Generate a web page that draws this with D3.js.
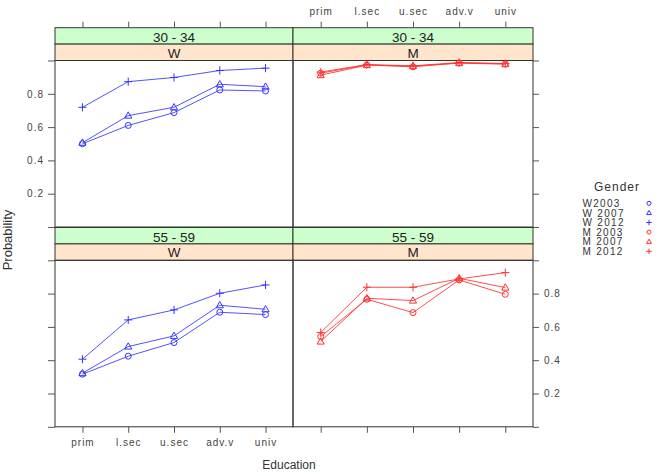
<!DOCTYPE html>
<html>
<head>
  <title>Probability by Education</title>
  <script src="https://d3js.org/d3.v7.min.js"></script>
  <style>
    body { margin: 0; background: #fff; }
    text { font-family: "Liberation Sans", Arial, sans-serif; }
    .axis text { fill: #444; font-size: 10px; letter-spacing: 1px; }
    .axis line { stroke: #555; }
  </style>
</head>
<body>
  <svg id="chart" width="661" height="476"></svg>

  <script>
    // categories
    var education = ["prim", "l.sec", "u.sec", "adv.v", "univ"];
    var ages = ["30 - 34", "55 - 59"];
    var genders = ["W", "M"];
    var years = ["2003", "2007", "2012"];
    var legendLabels = ["W2003", "W 2007", "W 2012", "M 2003", "M 2007", "M 2012"];
    var yTicks = [0, 0.2, 0.4, 0.6, 0.8, 1];
    var yTickLabels = ["", "0.2", "0.4", "0.6", "0.8", ""];

    // values
    var W_30_34_2003 = [0.500, 0.610, 0.687, 0.823, 0.817];
    var W_30_34_2007 = [0.506, 0.669, 0.719, 0.857, 0.843];
    var W_30_34_2012 = [0.719, 0.873, 0.898, 0.940, 0.954];
    var M_30_34_2003 = [0.924, 0.974, 0.962, 0.986, 0.980];
    var M_30_34_2007 = [0.912, 0.972, 0.966, 0.984, 0.978];
    var M_30_34_2012 = [0.930, 0.976, 0.968, 0.988, 0.982];
    var W_55_59_2003 = [0.316, 0.424, 0.506, 0.688, 0.674];
    var W_55_59_2007 = [0.322, 0.482, 0.546, 0.730, 0.706];
    var W_55_59_2012 = [0.406, 0.642, 0.702, 0.802, 0.852];
    var M_55_59_2003 = [0.542, 0.766, 0.686, 0.882, 0.796];
    var M_55_59_2007 = [0.512, 0.772, 0.758, 0.892, 0.836];
    var M_55_59_2012 = [0.566, 0.838, 0.838, 0.888, 0.926];

    var panelValues = {
      "W|30 - 34": [W_30_34_2003, W_30_34_2007, W_30_34_2012],
      "M|30 - 34": [M_30_34_2003, M_30_34_2007, M_30_34_2012],
      "W|55 - 59": [W_55_59_2003, W_55_59_2007, W_55_59_2012],
      "M|55 - 59": [M_55_59_2003, M_55_59_2007, M_55_59_2012]
    };

    var colors = { W: "#3535ff", M: "#ff3030" };

    var svg = d3.select("#chart");

    // layout
    var colX = [[55, 293], [293, 533]];
    var rowTop = [27.7, 227.5];
    var stripH = 16.4;
    var plotH = 166.5;

    // draws a lattice-like open symbol (0 circle, 1 triangle, 2 plus)
    function drawSymbol(g, i, x, y, r, col) {
      if (i === 0) {
        g.append("circle").attr("cx", x).attr("cy", y).attr("r", r)
          .attr("fill", "none").attr("stroke", col).attr("stroke-width", 1);
      } else if (i === 1) {
        var h = r * 2.1;
        g.append("path")
          .attr("d", "M" + x + "," + (y - h * 0.6) + "L" + (x + r * 1.2) + "," + (y + h * 0.4) +
            "L" + (x - r * 1.2) + "," + (y + h * 0.4) + "Z")
          .attr("fill", "none").attr("stroke", col).attr("stroke-width", 1);
      } else {
        var a = r * 1.35;
        g.append("path")
          .attr("d", "M" + (x - a) + "," + y + "H" + (x + a) + "M" + x + "," + (y - a) + "V" + (y + a))
          .attr("fill", "none").attr("stroke", col).attr("stroke-width", 1);
      }
    }

    ages.forEach(function(age, ri) {
      genders.forEach(function(gender, ci) {
        var x0 = colX[ci][0], x1 = colX[ci][1];
        var top = rowTop[ri];
        var pTop = top + 2 * stripH;
        var pBot = pTop + plotH;

        var xScale = d3.scalePoint().domain(education).range([x0, x1]).padding(0.6);
        var yScale = d3.scaleLinear().domain([0, 1]).range([pBot, pTop]);

        // strips
        svg.append("rect").attr("x", x0).attr("y", top).attr("width", x1 - x0).attr("height", stripH)
          .attr("fill", "#ccffcc").attr("stroke", "#333").attr("stroke-width", 1);
        svg.append("text").attr("x", (x0 + x1) / 2).attr("y", top + stripH - 2)
          .attr("text-anchor", "middle").style("font-size", "13.5px").attr("fill", "#222").text(age);
        svg.append("rect").attr("x", x0).attr("y", top + stripH).attr("width", x1 - x0).attr("height", stripH)
          .attr("fill", "#ffe5cc").attr("stroke", "#333").attr("stroke-width", 1);
        svg.append("text").attr("x", (x0 + x1) / 2).attr("y", top + 2 * stripH - 3)
          .attr("text-anchor", "middle").style("font-size", "13.5px").attr("fill", "#222").text(gender);

        // panel border
        svg.append("rect").attr("x", x0).attr("y", pTop).attr("width", x1 - x0).attr("height", plotH)
          .attr("fill", "none").attr("stroke", "#333").attr("stroke-width", 1);

        // axes
        var fmt = function(d, i) { return yTickLabels[i]; };
        var none = function() { return ""; };
        if (ci === 0) {
          var ya = svg.append("g").attr("class", "axis").attr("transform", "translate(" + x0 + ",0)")
            .call(d3.axisLeft(yScale).tickValues(yTicks).tickSize(7).tickPadding(4)
              .tickFormat(ri === 0 ? fmt : none));
          ya.select(".domain").remove();
        } else {
          var yb = svg.append("g").attr("class", "axis").attr("transform", "translate(" + x1 + ",0)")
            .call(d3.axisRight(yScale).tickValues(yTicks).tickSize(6).tickPadding(5)
              .tickFormat(ri === 1 ? fmt : none));
          yb.select(".domain").remove();
        }
        if (ri === 0) {
          var xt = svg.append("g").attr("class", "axis").attr("transform", "translate(0," + top + ")")
            .call(d3.axisTop(xScale).tickSize(6).tickPadding(7)
              .tickFormat(ci === 1 ? null : none));
          xt.select(".domain").remove();
        } else {
          var xb = svg.append("g").attr("class", "axis").attr("transform", "translate(0," + pBot + ")")
            .call(d3.axisBottom(xScale).tickSize(6).tickPadding(6)
              .tickFormat(ci === 0 ? null : none));
          xb.select(".domain").remove();
        }

        // series
        var col = colors[gender];
        var line = d3.line()
          .x(function(d, i) { return xScale(education[i]); })
          .y(function(d) { return yScale(d); });
        var g = svg.append("g");
        panelValues[gender + "|" + age].forEach(function(vals, si) {
          g.append("path").datum(vals).attr("d", line)
            .attr("fill", "none").attr("stroke", col).attr("stroke-width", 1).attr("opacity", 0.85);
          vals.forEach(function(v, i) {
            drawSymbol(g, si, xScale(education[i]), yScale(v), 3, col);
          });
        });
      });
    });

    // axis titles
    svg.append("text").attr("x", 289).attr("y", 469).attr("text-anchor", "middle")
      .style("font-size", "12px").attr("fill", "#333").text("Education");
    svg.append("text").attr("transform", "translate(12,240) rotate(-90)").attr("text-anchor", "middle")
      .style("font-size", "13px").attr("fill", "#333").text("Probability");

    // legend
    var legend = svg.append("g");
    legend.append("text").attr("x", 617).attr("y", 191).attr("text-anchor", "middle")
      .style("font-size", "12px").style("letter-spacing", "1px").attr("fill", "#333").text("Gender");
    legendLabels.forEach(function(lab, i) {
      var yy = 203.3 + i * 9.6;
      legend.append("text").attr("x", 582.5).attr("y", yy + 3.6).style("font-size", "10px")
        .style("letter-spacing", "1.3px").attr("fill", "#333").text(lab);
      drawSymbol(legend, i % 3, 649, yy, 2, i < 3 ? colors.W : colors.M);
    });
  </script>
</body>
</html>
